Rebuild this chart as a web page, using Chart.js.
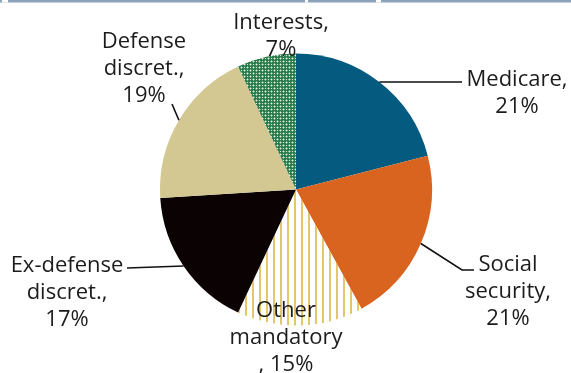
<!DOCTYPE html>
<html>
<head>
<meta charset="utf-8">
<script src="https://cdn.jsdelivr.net/npm/chart.js@4/dist/chart.umd.min.js"></script>
<style>
  html, body { margin: 0; padding: 0; background: #fff; }
  #wrap { position: relative; width: 571px; height: 373px; }
</style>
</head>
<body>
<div id="wrap"><canvas id="c" width="571" height="373"></canvas></div>
<script>
// Budget composition, share of total spending (%)
const categories = ['Medicare', 'Social security', 'Other mandatory', 'Ex-defense discret.', 'Defense discret.', 'Interests'];
const shares = [21, 21, 15, 17, 19, 7];

// Label wording per category (the value line is appended from `shares`)
const labelHeads = [
  ['Medicare,'],
  ['Social', 'security,'],
  ['Other', 'mandatory'],
  ['Ex-defense', 'discret.,'],
  ['Defense', 'discret.,'],
  ['Interests,']
];
const valuePrefix = ['', '', ', ', '', '', ''];

// ---- fill patterns ----
function stripePattern() {
  const t = document.createElement('canvas');
  t.width = 7; t.height = 7;
  const g = t.getContext('2d');
  g.fillStyle = '#ffffff';
  g.fillRect(0, 0, 7, 7);
  g.fillStyle = '#e4c66c';
  g.fillRect(0, 0, 2, 7);
  return g.createPattern(t, 'repeat');
}
function latticePattern() {
  const t = document.createElement('canvas');
  t.width = 6; t.height = 6;
  const g = t.getContext('2d');
  g.fillStyle = '#2a7c4b';
  g.fillRect(0, 0, 6, 6);
  // pale dots between the green crosses
  g.fillStyle = '#e3efe6';
  [[1, 1], [4, 1], [1, 4], [4, 4]].forEach(([a, b]) => g.fillRect(a, b, 1, 1));
  g.fillStyle = 'rgba(227,239,230,0.45)';
  [[0, 1], [1, 0], [2, 1], [1, 2], [3, 4], [4, 3], [5, 4], [4, 5]].forEach(([a, b]) => g.fillRect(a, b, 1, 1));
  return g.createPattern(t, 'repeat');
}

const sliceColors = ['#045a7f', '#d8641f', stripePattern(), '#0b0203', '#d3c792', latticePattern()];

// Where each label sits and how its leader line runs from the slice edge
const labelPlacement = [
  { x: 517, y: 86,  leader: [[462, 82]] },
  { x: 508, y: 271, leader: [[462, 270], [474, 270]] },
  { x: 286, y: 317, leader: null },
  { x: 67,  y: 272, leader: [[127, 268]] },
  { x: 144, y: 48,  leader: [[172, 104]] },
  { x: 281, y: 29,  leader: null }
];

const topRule = {
  id: 'topRule',
  beforeDraw(chart) {
    const ctx = chart.ctx;
    ctx.save();
    ctx.fillStyle = '#8aa3ba';
    ctx.fillRect(0, 0, chart.width, 2.5);
    ctx.fillStyle = '#ffffff';
    ctx.fillRect(2, 0, 6, 2.5);
    ctx.fillRect(305, 0, 3, 2.5);
    ctx.fillRect(376, 0, 5, 2.5);
    ctx.restore();
  }
};

const sliceLabels = {
  id: 'sliceLabels',
  afterDatasetsDraw(chart) {
    const ctx = chart.ctx;
    const arcs = chart.getDatasetMeta(0).data;
    ctx.save();
    ctx.font = '22px "Open Sans", "Noto Sans", sans-serif';
    ctx.fillStyle = '#1c1c1c';
    ctx.textAlign = 'center';
    ctx.textBaseline = 'alphabetic';
    ctx.strokeStyle = '#111';
    ctx.lineWidth = 1.6;
    arcs.forEach((arc, i) => {
      const p = labelPlacement[i];
      const { x, y, outerRadius, startAngle, endAngle } = arc.getProps(['x', 'y', 'outerRadius', 'startAngle', 'endAngle'], true);
      if (p.leader) {
        const mid = (startAngle + endAngle) / 2;
        ctx.beginPath();
        ctx.moveTo(x + outerRadius * Math.cos(mid), y + outerRadius * Math.sin(mid));
        p.leader.forEach(pt => ctx.lineTo(pt[0], pt[1]));
        ctx.stroke();
      }
      const lines = labelHeads[i].concat([valuePrefix[i] + shares[i] + '%']);
      lines.forEach((t, k) => ctx.fillText(t, p.x, p.y + k * 26.8));
    });
    ctx.restore();
  }
};

new Chart(document.getElementById('c'), {
  type: 'pie',
  data: {
    labels: categories,
    datasets: [{
      data: shares,
      backgroundColor: sliceColors,
      borderWidth: 0
    }]
  },
  options: {
    responsive: false,
    animation: false,
    layout: { padding: { top: 53, bottom: 47, left: 160, right: 139 } },
    plugins: { legend: { display: false }, tooltip: { enabled: false } }
  },
  plugins: [topRule, sliceLabels]
});
</script>
</body>
</html>
